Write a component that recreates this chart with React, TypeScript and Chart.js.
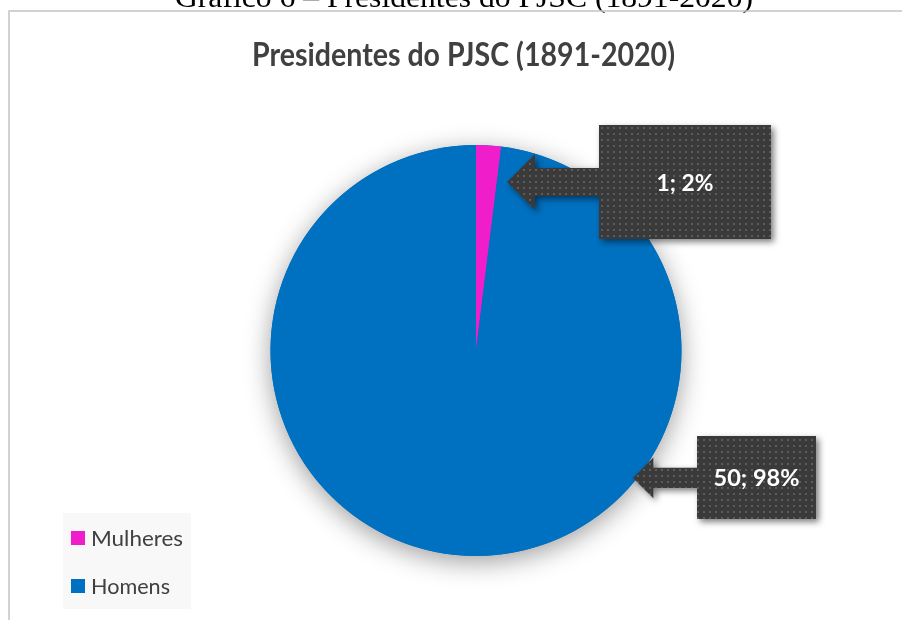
import React, { useEffect, useRef } from 'react';
import { Chart, registerables } from 'chart.js';

Chart.register(...registerables);

const captionText = 'Gráfico 6 – Presidentes do PJSC (1891-2020)';
const titleText = 'Presidentes do PJSC (1891-2020)';
const categories = ['Mulheres', 'Homens'];
const counts = [1, 50];
const sliceColors = ['#EF1DCA', '#0070C0'];

function drawFitted(ctx: CanvasRenderingContext2D, text: string, x: number, y: number, width: number, align: CanvasTextAlign) {
  const m = ctx.measureText(text).width || 1;
  const s = Math.max(0.7, Math.min(1.3, width / m));
  ctx.save();
  ctx.translate(x, y);
  ctx.scale(s, 1);
  ctx.textAlign = align;
  ctx.textBaseline = 'alphabetic';
  ctx.fillText(text, 0, 0);
  ctx.restore();
}

function makePattern(ctx: CanvasRenderingContext2D) {
  const c = document.createElement('canvas');
  c.width = 6;
  c.height = 6;
  const p = c.getContext('2d')!;
  p.fillStyle = '#3a3a3a';
  p.fillRect(0, 0, 6, 6);
  p.fillStyle = '#5c5c5c';
  p.fillRect(1, 1, 2, 2);
  return ctx.createPattern(c, 'repeat');
}

const framePlugin = {
  id: 'frame',
  beforeDraw(chart: any) {
    const ctx: CanvasRenderingContext2D = chart.ctx;
    ctx.save();
    ctx.fillStyle = '#ffffff';
    ctx.fillRect(0, 0, chart.width, chart.height);
    // caption (cut at top)
    ctx.fillStyle = '#000000';
    ctx.font = '30px "Liberation Serif", "Times New Roman", serif';
    drawFitted(ctx, captionText, 175, 7, 578, 'left');
    // chart border
    ctx.strokeStyle = '#c4c4c4';
    ctx.lineWidth = 1.5;
    ctx.beginPath();
    ctx.moveTo(9, chart.height + 5);
    ctx.lineTo(9, 11);
    ctx.lineTo(chart.width + 5, 11);
    ctx.stroke();
    // title
    ctx.fillStyle = '#404040';
    ctx.font = 'bold 32px Lato, "Open Sans", sans-serif';
    drawFitted(ctx, titleText, 252, 66, 423, 'left');
    // legend
    ctx.fillStyle = '#f8f8f8';
    ctx.fillRect(63, 513, 128, 96);
    const rows = [538, 586];
    const widths = [92, 79];
    categories.forEach((name, i) => {
      ctx.fillStyle = sliceColors[i];
      ctx.fillRect(71, rows[i] - 7, 14, 14);
      ctx.fillStyle = '#404040';
      ctx.font = '22px Lato, "Open Sans", sans-serif';
      drawFitted(ctx, name, 91, rows[i] + 7.5, widths[i], 'left');
    });
    ctx.restore();
  },
  beforeDatasetsDraw(chart: any) {
    const arc = chart.getDatasetMeta(0).data[0];
    if (!arc) return;
    const ctx: CanvasRenderingContext2D = chart.ctx;
    ctx.save();
    ctx.shadowColor = 'rgba(0,0,0,0.38)';
    ctx.shadowBlur = 26;
    ctx.shadowOffsetY = 6;
    ctx.fillStyle = sliceColors[1];
    ctx.beginPath();
    ctx.arc(arc.x, arc.y, arc.outerRadius, 0, Math.PI * 2);
    ctx.fill();
    ctx.restore();
  },
  afterDatasetsDraw(chart: any) {
    const meta = chart.getDatasetMeta(0);
    const first = meta.data[0];
    if (!first) return;
    const ctx: CanvasRenderingContext2D = chart.ctx;
    const cx = first.x;
    const cy = first.y;
    const R = first.outerRadius;
    const values: number[] = chart.data.datasets[0].data;
    const total = values.reduce((a, b) => a + b, 0);
    // callout placement relative to the pie (fractions of radius)
    const placement = [
      { tip: [0.151, -0.82], box: [1.017, -0.82], w: 0.837, h: 0.555, fit: 57 },
      { tip: [0.764, 0.62], box: [1.365, 0.618], w: 0.579, h: 0.404, fit: 86 },
    ];
    const pattern = makePattern(ctx);
    values.forEach((v, i) => {
      const pl = placement[i];
      const tx = cx + pl.tip[0] * R;
      const ty = cy + pl.tip[1] * R;
      const bx = cx + pl.box[0] * R;
      const by = cy + pl.box[1] * R;
      const w = pl.w * R;
      const h = pl.h * R;
      const left = bx - w / 2;
      const right = bx + w / 2;
      const top = by - h / 2;
      const bottom = by + h / 2;
      const shaft = 0.122 * h;
      const head = 0.245 * h;
      const headLen = 0.245 * h;
      ctx.save();
      ctx.shadowColor = 'rgba(0,0,0,0.5)';
      ctx.shadowBlur = 6;
      ctx.shadowOffsetX = 3;
      ctx.shadowOffsetY = 3;
      ctx.fillStyle = pattern || '#3b3b3b';
      ctx.beginPath();
      ctx.moveTo(tx, ty);
      ctx.lineTo(tx + headLen, ty - head);
      ctx.lineTo(tx + headLen, ty - shaft);
      ctx.lineTo(left, ty - shaft);
      ctx.lineTo(left, top);
      ctx.lineTo(right, top);
      ctx.lineTo(right, bottom);
      ctx.lineTo(left, bottom);
      ctx.lineTo(left, ty + shaft);
      ctx.lineTo(tx + headLen, ty + shaft);
      ctx.lineTo(tx + headLen, ty + head);
      ctx.closePath();
      ctx.fill();
      ctx.restore();
      const pct = Math.round((v / total) * 100);
      ctx.save();
      ctx.fillStyle = '#ffffff';
      ctx.font = 'bold 22px Lato, "Open Sans", sans-serif';
      drawFitted(ctx, `${v}; ${pct}%`, bx, by + 9, pl.fit, 'center');
      ctx.restore();
    });
  },
};

export default function App() {
  const ref = useRef<HTMLCanvasElement | null>(null);
  useEffect(() => {
    if (!ref.current) return;
    const chart = new Chart(ref.current, {
      type: 'pie',
      data: {
        labels: categories,
        datasets: [
          {
            data: counts,
            backgroundColor: sliceColors,
            borderWidth: 0,
          },
        ],
      },
      options: {
        animation: false,
        responsive: true,
        maintainAspectRatio: false,
        events: [],
        layout: { padding: { left: 270.5, right: 220.5, top: 145, bottom: 64 } },
        plugins: {
          legend: { display: false },
          title: { display: false },
          tooltip: { enabled: false },
        },
      },
      plugins: [framePlugin],
    });
    return () => chart.destroy();
  }, []);
  return (
    <div style={{ position: 'fixed', left: 0, top: 0, width: 902, height: 620, background: '#fff' }}>
      <canvas ref={ref} />
    </div>
  );
}
